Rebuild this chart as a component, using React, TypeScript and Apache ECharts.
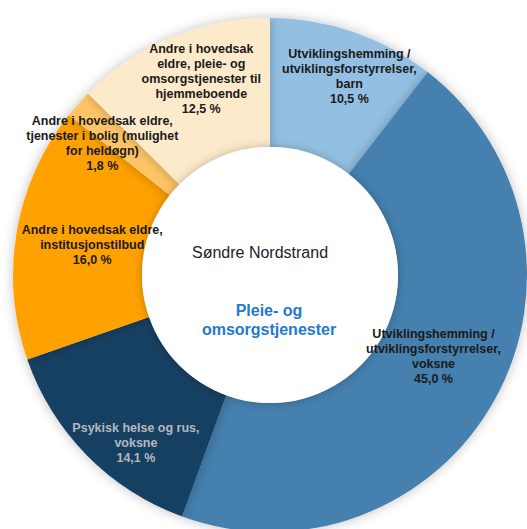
import React, { useEffect, useRef } from "react";
import * as echarts from "echarts";

const categories = [
  "Utviklingshemming /\nutviklingsforstyrrelser,\nbarn",
  "Utviklingshemming /\nutviklingsforstyrrelser,\nvoksne",
  "Psykisk helse og rus,\nvoksne",
  "Andre i hovedsak eldre,\ninstitusjonstilbud",
  "Andre i hovedsak eldre,\ntjenester i bolig (mulighet\nfor heldøgn)",
  "Andre i hovedsak\neldre, pleie- og\nomsorgstjenester til\nhjemmeboende",
];
const values = [10.5, 45.0, 14.1, 16.0, 1.8, 12.5];
const colors = ["#93c0e2", "#4580ae", "#123f62", "#ffa103", "#ffc466", "#fdeacb"];
const labelColors = ["#1a1a1a", "#1a1a1a", "#b4b8bd", "#1a1a1a", "#1a1a1a", "#1a1a1a"];
const labelOffsets: [number, number][] = [
  [17, -16],
  [-5, -12],
  [3, 33],
  [12, 2],
  [-24, -3],
  [5, -18],
];
const centerTitle = "Søndre Nordstrand";
const centerSubtitle = "Pleie- og\nomsorgstjenester";

const CX = 270;
const CY = 275;
const R_OUT = 257;
const R_IN = 128;
const MID_R = (R_OUT + R_IN) / 2;

const fmt = (v: number) => v.toFixed(1).replace(".", ",") + " %";

export default function App() {
  const ref = useRef<HTMLDivElement>(null);
  useEffect(() => {
    if (!ref.current) return;
    const chart = echarts.init(ref.current, null, { renderer: "svg" });
    const total = values.reduce((a, b) => a + b, 0);
    // mid-angle of each slice (clockwise from top), for label placement
    const mids: number[] = [];
    let acc = 0;
    values.forEach((v) => {
      mids.push(((acc + v / 2) / total) * Math.PI * 2);
      acc += v;
    });
    const labelPos = mids.map((a, i) => ({
      x: CX + MID_R * Math.sin(a) + labelOffsets[i][0],
      y: CY - MID_R * Math.cos(a) + labelOffsets[i][1],
    }));

    const baseData = values.map((v, i) => ({
      name: categories[i],
      value: v,
      itemStyle: { color: colors[i] },
    }));
    const labelData = values.map((v, i) => ({
      name: categories[i],
      value: v,
      itemStyle: { color: "rgba(0,0,0,0)" },
      label: { color: labelColors[i] },
    }));
    chart.setOption({
      animation: false,
      backgroundColor: "#ffffff",
      series: [
        {
          type: "pie",
          z: 2,
          center: [CX, CY],
          radius: [R_IN, R_OUT],
          startAngle: 90,
          clockwise: true,
          itemStyle: {
            borderWidth: 0,
            shadowBlur: 12,
            shadowColor: "rgba(0,0,0,0.25)",
          },
          label: { show: false },
          labelLine: { show: false },
          emphasis: { disabled: true },
          silent: true,
          data: baseData,
        },
        {
          type: "pie",
          z: 20,
          center: [CX, CY],
          radius: [R_IN, R_OUT],
          startAngle: 90,
          clockwise: true,
          avoidLabelOverlap: false,
          minShowLabelAngle: 0,
          itemStyle: { borderWidth: 0 },
          label: {
            show: true,
            position: "outside",
            fontFamily: "Liberation Sans, Arial, sans-serif",
            fontWeight: "bold",
            fontSize: 12.5,
            lineHeight: 15,
            align: "center",
            formatter: (p: any) => p.name + "\n" + fmt(p.value),
          },
          labelLine: { show: false },
          labelLayout: (params: any) => ({
            x: labelPos[params.dataIndex].x,
            y: labelPos[params.dataIndex].y,
            align: "center",
            verticalAlign: "middle",
          }),
          emphasis: { disabled: true },
          silent: true,
          data: labelData,
        },
      ],
      graphic: [
        {
          type: "circle",
          shape: { cx: CX, cy: CY, r: R_IN },
          style: {
            fill: "#ffffff",
            shadowBlur: 10,
            shadowColor: "rgba(0,0,0,0.25)",
          },
          z: 10,
        },
        {
          type: "text",
          x: 260,
          y: 252,
          style: {
            text: centerTitle,
            fill: "#222222",
            font: "16px 'Liberation Sans', Arial, sans-serif",
            align: "center",
            verticalAlign: "middle",
          },
          z: 11,
        },
        {
          type: "text",
          x: 269,
          y: 320,
          style: {
            text: centerSubtitle,
            fill: "#1f7acc",
            font: "bold 16px 'Liberation Sans', Arial, sans-serif",
            lineHeight: 19,
            align: "center",
            verticalAlign: "middle",
          },
          z: 11,
        },
      ],
    });
    return () => chart.dispose();
  }, []);
  return (
    <div
      ref={ref}
      style={{ position: "fixed", left: 0, top: 0, width: 527, height: 529 }}
    />
  );
}
